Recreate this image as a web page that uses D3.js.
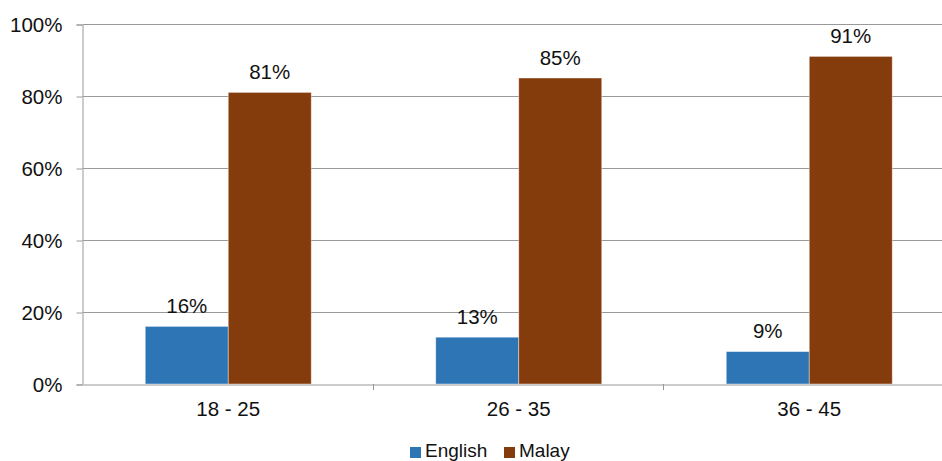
<!DOCTYPE html>
<html>
<head>
<meta charset="utf-8">
<script src="https://cdn.jsdelivr.net/npm/d3@7"></script>
<style>
  body { margin: 0; background: #fff; }
  svg { display: block; font-family: "Liberation Sans", Arial, sans-serif; }
</style>
</head>
<body>
<svg id="chart"></svg>
<script>
// chart values
const categories = ['18 - 25', '26 - 35', '36 - 45'];
const seriesNames = ['English', 'Malay'];
const english = [0.16, 0.13, 0.09];
const malay = [0.81, 0.85, 0.91];
const yTicks = [0, 0.2, 0.4, 0.6, 0.8, 1.0];

const config = {
    width: 942,
    height: 461,
    margin: {top: 24, left: 83, bottom: 77},
    plotWidth: 871.5,   // plot runs past the right edge, as in the source
    colors: ['#2E75B6', '#843C0C'],
    fontSize: 20.5
};

const svg = d3.select('#chart')
    .attr('width', config.width)
    .attr('height', config.height);

const plotHeight = config.height - config.margin.top - config.margin.bottom;

const chart = svg.append('g')
    .attr('transform', `translate(${config.margin.left},${config.margin.top})`);

const yScale = d3.scaleLinear()
    .domain([0, 1])
    .range([plotHeight, 0]);

const xScale = d3.scaleBand()
    .domain(categories)
    .range([0, config.plotWidth])
    .paddingInner(0)
    .paddingOuter(0);

const innerScale = d3.scaleBand()
    .domain(seriesNames)
    .range([xScale.bandwidth() * 0.2143, xScale.bandwidth() * 0.7857]);

const colorScale = d3.scaleOrdinal(seriesNames, config.colors);

// gridlines
chart.selectAll('.grid')
    .data(yTicks.filter(d => d > 0))
    .join('line')
    .attr('class', 'grid')
    .attr('x1', 0)
    .attr('x2', config.plotWidth)
    .attr('y1', d => Math.round(yScale(d)) + 0.5)
    .attr('y2', d => Math.round(yScale(d)) + 0.5)
    .attr('stroke', '#999')
    .attr('stroke-width', 1);

// y axis
const yAxis = d3.axisLeft(yScale)
    .tickValues(yTicks)
    .tickFormat(d3.format('.0%'))
    .tickSize(6)
    .tickPadding(14);

const yAxisG = chart.append('g')
    .attr('transform', 'translate(-0.5,0.5)')
    .call(yAxis);
yAxisG.select('.domain').attr('stroke', '#999');
yAxisG.selectAll('.tick line').attr('stroke', '#999');
yAxisG.selectAll('.tick text')
    .attr('font-size', config.fontSize)
    .attr('fill', '#111')
    .attr('font-family', '"Liberation Sans", Arial, sans-serif');

// bars
const rows = categories.map((c, i) => ({cat: c, values: [
    {series: 'English', value: english[i]},
    {series: 'Malay', value: malay[i]}
]}));

const groups = chart.selectAll('.group')
    .data(rows)
    .join('g')
    .attr('class', 'group')
    .attr('transform', d => `translate(${xScale(d.cat)},0)`);

groups.selectAll('.bar')
    .data(d => d.values)
    .join('rect')
    .attr('class', 'bar')
    .attr('x', d => innerScale(d.series))
    .attr('width', innerScale.bandwidth())
    .attr('y', d => yScale(d.value))
    .attr('height', d => plotHeight - yScale(d.value))
    .attr('fill', d => colorScale(d.series))
    .attr('stroke', 'rgba(255,255,255,0.5)')
    .attr('stroke-width', 0.8);

groups.selectAll('.bar-label')
    .data(d => d.values)
    .join('text')
    .attr('class', 'bar-label')
    .attr('x', d => innerScale(d.series) + innerScale.bandwidth() / 2)
    .attr('y', d => yScale(d.value) - 13.5)
    .attr('text-anchor', 'middle')
    .attr('font-size', config.fontSize)
    .attr('fill', '#111')
    .text(d => d3.format('.0%')(d.value));

// x axis
const xAxis = d3.axisBottom(xScale)
    .tickSize(0)
    .tickPadding(17);

const xAxisG = chart.append('g')
    .attr('transform', `translate(0,${plotHeight + 0.5})`)
    .call(xAxis);
xAxisG.select('.domain').attr('stroke', '#999');
xAxisG.selectAll('.tick text')
    .attr('font-size', config.fontSize)
    .attr('fill', '#111')
    .attr('font-family', '"Liberation Sans", Arial, sans-serif');

// category separators
chart.selectAll('.sep')
    .data(categories.slice(1))
    .join('line')
    .attr('class', 'sep')
    .attr('x1', d => Math.round(xScale(d)) - 0.5)
    .attr('x2', d => Math.round(xScale(d)) - 0.5)
    .attr('y1', plotHeight)
    .attr('y2', plotHeight + 6)
    .attr('stroke', '#999');

// legend
const legend = svg.append('g')
    .attr('transform', 'translate(410,457)');

const legendX = [0, 94];
const items = legend.selectAll('.legend-item')
    .data(seriesNames)
    .join('g')
    .attr('class', 'legend-item')
    .attr('transform', (d, i) => `translate(${legendX[i]},0)`);

items.append('rect')
    .attr('x', 0)
    .attr('y', -10)
    .attr('width', 11)
    .attr('height', 11)
    .attr('fill', d => colorScale(d));

items.append('text')
    .attr('x', 15)
    .attr('y', 0)
    .attr('font-size', 19)
    .attr('fill', '#111')
    .text(d => d);
</script>
</body>
</html>
